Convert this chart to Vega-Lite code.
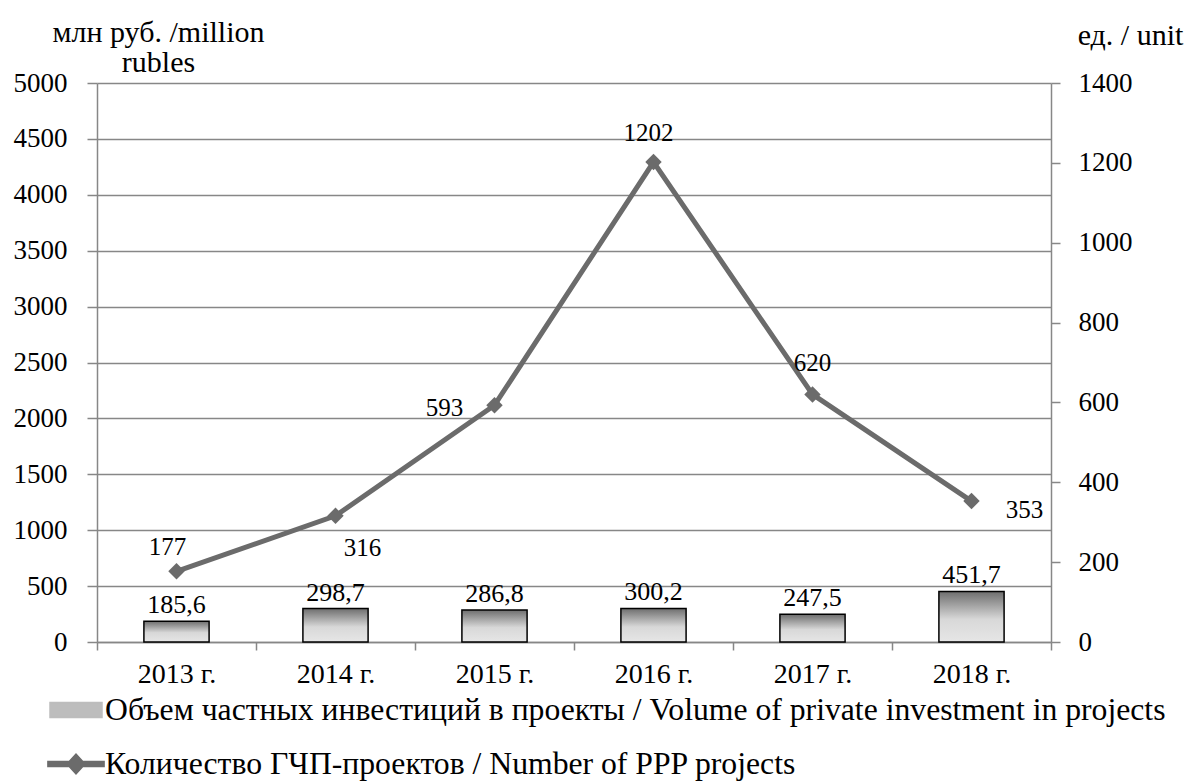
{
  "$schema": "https://vega.github.io/schema/vega-lite/v6.json",
  "width": 954,
  "height": 559,
  "autosize": {"type": "none"},
  "padding": {"left": 97, "top": 83, "right": 133, "bottom": 139},
  "background": "white",
  "config": {
    "locale": {"number": {"decimal": ",", "thousands": "", "grouping": [3], "currency": ["", ""]}},
    "font": "Liberation Serif",
    "view": {"stroke": null},
    "axis": {
      "labelFont": "Liberation Serif", "labelFontSize": 27, "labelColor": "black",
      "titleFont": "Liberation Serif", "titleFontSize": 30, "titleFontWeight": "normal", "titleColor": "black",
      "domainColor": "#878787", "tickColor": "#878787", "gridColor": "#878787",
      "domainWidth": 1.5, "tickWidth": 1.5, "gridWidth": 1.5
    },
    "text": {"font": "Liberation Serif", "fontSize": 25, "color": "black"}
  },
  "data": {
    "values": [
      {"year": "2013 г.", "investment": 185.6, "projects": 177},
      {"year": "2014 г.", "investment": 298.7, "projects": 316},
      {"year": "2015 г.", "investment": 286.8, "projects": 593},
      {"year": "2016 г.", "investment": 300.2, "projects": 1202},
      {"year": "2017 г.", "investment": 247.5, "projects": 620},
      {"year": "2018 г.", "investment": 451.7, "projects": 353}
    ]
  },
  "encoding": {
    "x": {
      "field": "year", "type": "nominal", "sort": null,
      "scale": {"paddingInner": 0, "paddingOuter": 0},
      "axis": {"title": null, "labelAngle": 0, "labelFontSize": 28, "tickBand": "extent", "tickSize": 8, "labelPadding": 10, "grid": false}
    }
  },
  "layer": [
    {
      "layer": [
        {
          "mark": {
            "type": "bar", "stroke": "black", "strokeWidth": 1.5, "width": {"band": 0.41},
            "fill": {"gradient": "linear", "x1": 0, "y1": 0, "x2": 0, "y2": 1,
                     "stops": [{"offset": 0, "color": "#6e6e6e"}, {"offset": 0.55, "color": "#d8d8d8"}, {"offset": 1, "color": "#e6e6e6"}]}
          },
          "encoding": {
            "y": {
              "field": "investment", "type": "quantitative",
              "scale": {"domain": [0, 5000], "nice": false},
              "axis": {
                "title": ["млн руб. /million", "rubles"],
                "values": [0, 500, 1000, 1500, 2000, 2500, 3000, 3500, 4000, 4500, 5000],
                "format": "d", "tickSize": 10, "labelPadding": 20, "grid": true,
                "titleAngle": 0, "titleX": 61, "titleY": -66, "titleAlign": "center",
                "titleBaseline": "top", "titleLineHeight": 30
              }
            }
          }
        },
        {
          "mark": {"type": "text", "baseline": "middle", "align": "center", "dy": -16, "fontSize": 26},
          "encoding": {
            "y": {"field": "investment", "type": "quantitative"},
            "text": {"field": "investment", "type": "quantitative", "format": ".1f"}
          }
        }
      ]
    },
    {
      "layer": [
        {
          "mark": {"type": "line", "strokeWidth": 5, "point": {"shape": "diamond", "size": 270, "filled": true}},
          "encoding": {
            "y": {
              "field": "projects", "type": "quantitative",
              "scale": {"domain": [0, 1400], "nice": false},
              "axis": {
                "orient": "right", "title": "ед. / unit",
                "values": [0, 200, 400, 600, 800, 1000, 1200, 1400],
                "format": "d", "tickSize": 9, "labelPadding": 18, "grid": false,
                "titleAngle": 0, "titleX": 79, "titleY": -48, "titleAlign": "center", "titleBaseline": "middle"
              }
            },
            "color": {
              "datum": "Количество ГЧП-проектов / Number of PPP projects",
              "scale": {
                "domain": [
                  "Объем частных инвестиций в проекты / Volume of private investment in projects",
                  "Количество ГЧП-проектов / Number of PPP projects"
                ],
                "range": ["#bdbdbd", "#6b6b6b"]
              },
              "legend": {
                "title": null, "orient": "none", "legendX": -48, "legendY": 600,
                "direction": "vertical", "padding": 0,
                "labelFont": "Liberation Serif", "labelFontSize": 31.7, "labelColor": "black",
                "labelLimit": 0, "labelOffset": 2, "symbolSize": 2704, "rowPadding": 10,
                "symbolStrokeWidth": 1.5,
                "encode": {
                  "symbols": {
                    "update": {
                      "shape": [
                        {"test": "datum.value === 'Количество ГЧП-проектов / Number of PPP projects'", "value": "M-1.08,-0.1 L-0.26,-0.1 L0,-0.38 L0.26,-0.1 L1.08,-0.1 L1.08,0.1 L0.26,0.1 L0,0.38 L-0.26,0.1 L-1.08,0.1 Z"},
                        {"value": "M-1,-0.29 L1,-0.29 L1,0.29 L-1,0.29 Z"}
                      ],
                      "strokeWidth": {"value": 1.5},
                      "opacity": {"value": 1}
                    }
                  }
                }
              }
            }
          }
        },
        {
          "transform": [{"filter": "datum.year === '2013 г.'"}],
          "mark": {"type": "text", "baseline": "middle", "align": "center", "dx": -9, "dy": -24},
          "encoding": {"y": {"field": "projects", "type": "quantitative"}, "text": {"field": "projects", "type": "quantitative", "format": "d"}}
        },
        {
          "transform": [{"filter": "datum.year === '2014 г.'"}],
          "mark": {"type": "text", "baseline": "middle", "align": "center", "dx": 27, "dy": 32},
          "encoding": {"y": {"field": "projects", "type": "quantitative"}, "text": {"field": "projects", "type": "quantitative", "format": "d"}}
        },
        {
          "transform": [{"filter": "datum.year === '2015 г.'"}],
          "mark": {"type": "text", "baseline": "middle", "align": "center", "dx": -50, "dy": 3},
          "encoding": {"y": {"field": "projects", "type": "quantitative"}, "text": {"field": "projects", "type": "quantitative", "format": "d"}}
        },
        {
          "transform": [{"filter": "datum.year === '2016 г.'"}],
          "mark": {"type": "text", "baseline": "middle", "align": "center", "dx": -5, "dy": -29},
          "encoding": {"y": {"field": "projects", "type": "quantitative"}, "text": {"field": "projects", "type": "quantitative", "format": "d"}}
        },
        {
          "transform": [{"filter": "datum.year === '2017 г.'"}],
          "mark": {"type": "text", "baseline": "middle", "align": "center", "dx": 0, "dy": -31},
          "encoding": {"y": {"field": "projects", "type": "quantitative"}, "text": {"field": "projects", "type": "quantitative", "format": "d"}}
        },
        {
          "transform": [{"filter": "datum.year === '2018 г.'"}],
          "mark": {"type": "text", "baseline": "middle", "align": "center", "dx": 53, "dy": 9},
          "encoding": {"y": {"field": "projects", "type": "quantitative"}, "text": {"field": "projects", "type": "quantitative", "format": "d"}}
        }
      ]
    }
  ],
  "resolve": {"scale": {"y": "independent"}}
}
